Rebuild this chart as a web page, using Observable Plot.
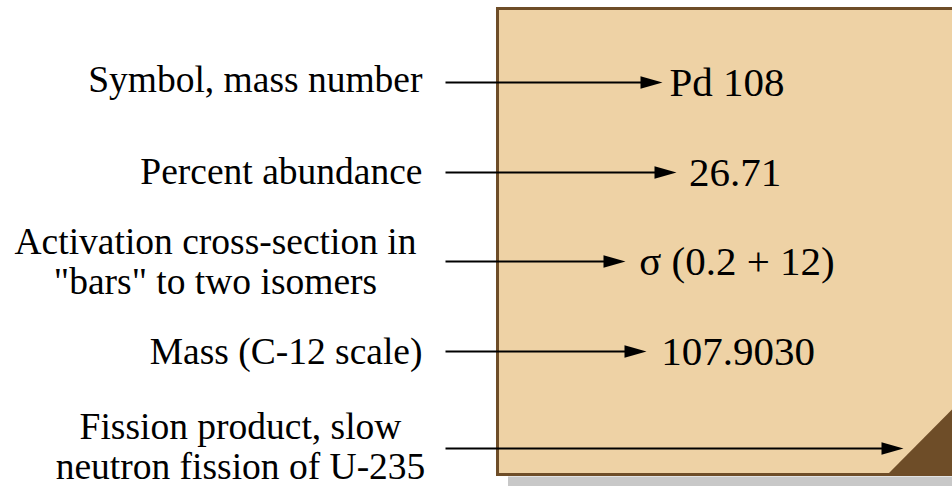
<!DOCTYPE html>
<html>
<head>
<meta charset="utf-8">
<script src="https://cdn.jsdelivr.net/npm/d3@7"></script>
<script src="https://cdn.jsdelivr.net/npm/@observablehq/plot@0.6"></script>
<style>
  html, body { margin: 0; padding: 0; background: #ffffff; }
  #chart { width: 952px; height: 486px; overflow: hidden; }
  #chart svg, #chart svg text, #chart svg tspan { font-family: "Liberation Serif", "Times New Roman", Times, serif !important; }
</style>
</head>
<body>
<div id="chart"></div>
<script>
// ---- Data (text content of the key diagram) ----
const labels = [
  "Symbol, mass number",
  "Percent abundance",
  "Activation cross-section in\n\"bars\" to two isomers",
  "Mass (C-12 scale)",
  "Fission product, slow\nneutron fission of U-235"
];
const values = ["Pd 108", "26.71", "σ (0.2 + 12)", "107.9030", ""];

// ---- Layout (pixel space of the diagram) ----
const rowY      = [82, 172, 261, 351, 448];
const arrowTip  = [662, 676, 625, 646, 903];
const labelX    = [422, 422, 215, 422, 240];
const labelAnc  = ["end", "end", "middle", "end", "middle"];
const labelY    = [78.5, 170.5, 260.5, 350.5, 446];
const valueX    = [726.5, 734.5, 736.5, 737.5, 737.5];
const arrowStart = 445;

const rows = labels.map((label, i) => ({
  label, value: values[i], y: rowY[i], tip: arrowTip[i],
  lx: labelX[i], anchor: labelAnc[i], ly: labelY[i], vx: valueX[i]
}));

const box = [{x1: 497.5, x2: 970, y1: 8.5, y2: 474.5}];
const shadow = [{x1: 508, x2: 970, y1: 476.5, y2: 490}];
const corner = [{x: 887.5, y1: 474.5, y2: 474.5}, {x: 952, y1: 474.5, y2: 409.5}];

const arrowHead = {
  draw(ctx) {
    ctx.moveTo(0, 0);
    ctx.lineTo(-22, -6.3);
    ctx.lineTo(-22, 6.3);
    ctx.closePath();
  }
};

const font = "Liberation Serif";

const chart = Plot.plot({
  width: 952,
  height: 486,
  margin: 0,
  style: {background: "#ffffff", fontFamily: font, overflow: "hidden"},
  x: {domain: [0, 952], range: [0, 952], axis: null},
  y: {domain: [0, 486], range: [0, 486], axis: null},
  marks: [
    Plot.rect(shadow, {x1: "x1", x2: "x2", y1: "y1", y2: "y2", fill: "#c8c8c8"}),
    Plot.rect(box, {x1: "x1", x2: "x2", y1: "y1", y2: "y2", fill: "#eed2a5", stroke: "#6e4d28", strokeWidth: 3}),
    Plot.area(corner, {x1: "x", y1: "y1", y2: "y2", fill: "#6e4d28", curve: "linear"}),
    Plot.link(rows, {x1: () => arrowStart, x2: d => d.tip - 12, y1: "y", y2: "y", stroke: "#000", strokeWidth: 2.2}),
    Plot.dot(rows, {x: "tip", y: "y", symbol: arrowHead, fill: "#000", stroke: "none", r: 5}),
    Plot.text(rows.filter(d => d.anchor === "end"), {x: "lx", y: "ly", text: "label", textAnchor: "end", fontSize: 37.5, lineHeight: 1.067, fill: "#000", fontFamily: font}),
    Plot.text(rows.filter(d => d.anchor === "middle"), {x: "lx", y: "ly", text: "label", textAnchor: "middle", fontSize: 37.5, lineHeight: 1.067, fill: "#000", fontFamily: font}),
    Plot.text(rows, {x: "vx", y: "y", text: "value", textAnchor: "middle", fontSize: 41, fill: "#000", fontFamily: font})
  ]
});
document.getElementById("chart").appendChild(chart);
</script>
</body>
</html>
